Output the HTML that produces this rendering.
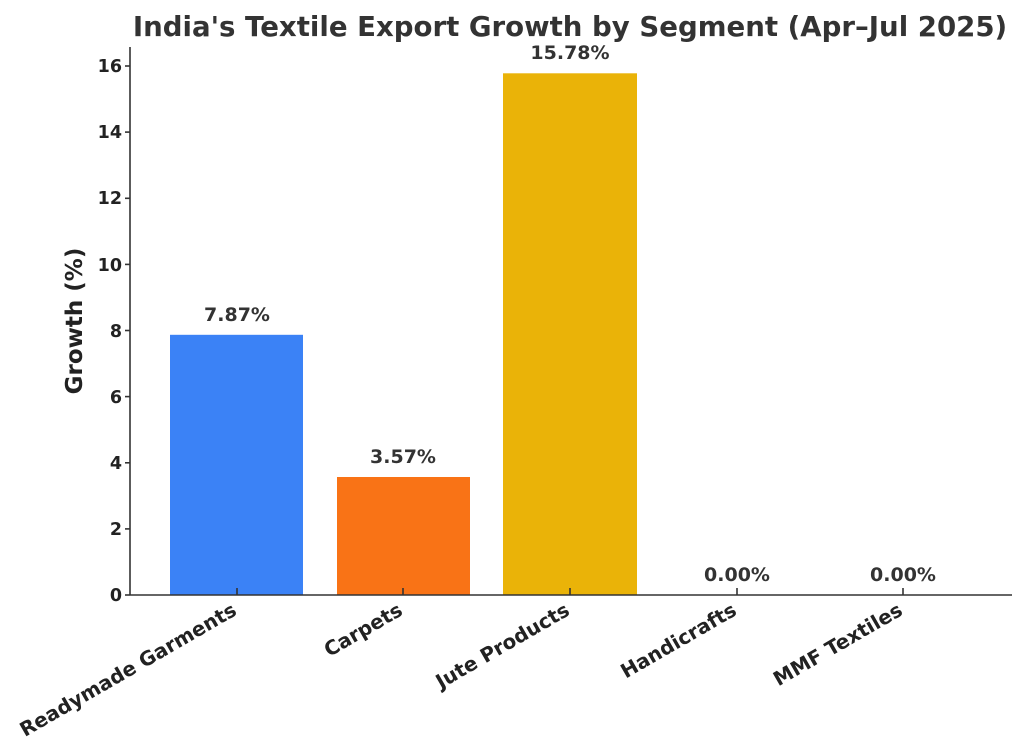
<!DOCTYPE html>
<html><head><meta charset="utf-8"><style>body{margin:0;background:#fff}svg{display:block}</style></head><body>
<svg width="1024" height="755" xmlns="http://www.w3.org/2000/svg" font-family="DejaVu Sans, Liberation Sans, sans-serif" font-weight="bold">
<text x="570" y="36" text-anchor="middle" font-size="27.6" fill="#333">India's Textile Export Growth by Segment (Apr–Jul 2025)</text>
<rect x="170" y="334.8" width="133" height="260.2" fill="#3b82f6"/>
<rect x="337" y="477" width="133" height="118" fill="#f97316"/>
<rect x="503" y="73.3" width="134" height="521.7" fill="#eab308"/>
<g font-size="19" fill="#333" text-anchor="middle">
<text x="237" y="321">7.87%</text>
<text x="403" y="463">3.57%</text>
<text x="570" y="59">15.78%</text>
<text x="737" y="581">0.00%</text>
<text x="903" y="581">0.00%</text>
</g>
<g stroke="#333" stroke-width="1.6">
<line x1="130" y1="47" x2="130" y2="595"/>
<line x1="130" y1="595" x2="1012" y2="595"/>
<line x1="237" y1="595" x2="237" y2="588"/>
<line x1="403" y1="595" x2="403" y2="588"/>
<line x1="570" y1="595" x2="570" y2="588"/>
<line x1="737" y1="595" x2="737" y2="588"/>
<line x1="903" y1="595" x2="903" y2="588"/>
<line x1="125" y1="595" x2="130" y2="595"/>
<line x1="125" y1="528.9" x2="130" y2="528.9"/>
<line x1="125" y1="462.8" x2="130" y2="462.8"/>
<line x1="125" y1="396.6" x2="130" y2="396.6"/>
<line x1="125" y1="330.5" x2="130" y2="330.5"/>
<line x1="125" y1="264.4" x2="130" y2="264.4"/>
<line x1="125" y1="198.3" x2="130" y2="198.3"/>
<line x1="125" y1="132.1" x2="130" y2="132.1"/>
<line x1="125" y1="66" x2="130" y2="66"/>
</g>
<g font-size="17.5" fill="#222" text-anchor="end">
<text x="122" y="601">0</text>
<text x="122" y="535">2</text>
<text x="122" y="469">4</text>
<text x="122" y="403">6</text>
<text x="122" y="337">8</text>
<text x="122" y="271">10</text>
<text x="122" y="204">12</text>
<text x="122" y="138">14</text>
<text x="122" y="72">16</text>
</g>
<text transform="translate(82,321) rotate(-90)" text-anchor="middle" font-size="23" fill="#222">Growth (%)</text>
<g font-size="19.8" fill="#222" text-anchor="end">
<text transform="translate(238,614) rotate(-30)">Readymade Garments</text>
<text transform="translate(404,614) rotate(-30)">Carpets</text>
<text transform="translate(571,614) rotate(-30)">Jute Products</text>
<text transform="translate(738,614) rotate(-30)">Handicrafts</text>
<text transform="translate(904,614) rotate(-30)">MMF Textiles</text>
</g>
</svg>
</body></html>
